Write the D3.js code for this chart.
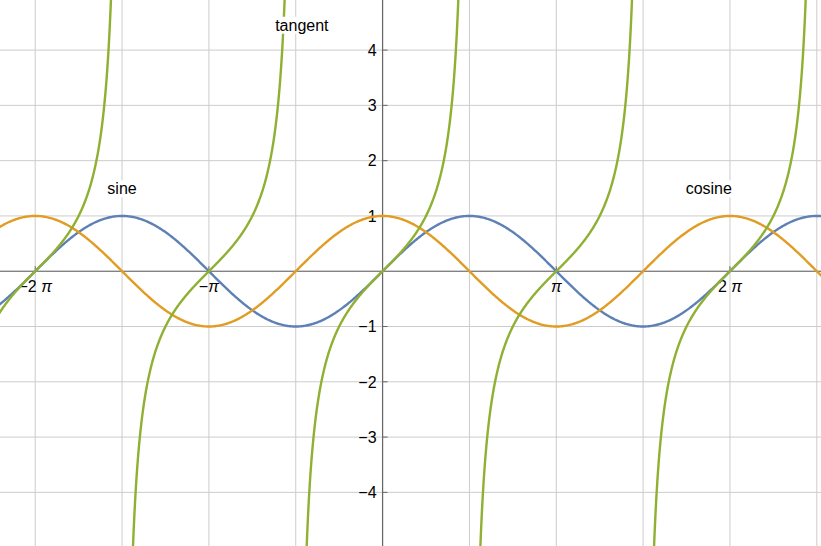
<!DOCTYPE html>
<html>
<head>
<meta charset="utf-8">
<script src="https://cdn.jsdelivr.net/npm/d3@7"></script>
<style>
  body { margin: 0; background: #fff; }
  svg { display: block; font-family: "Liberation Sans", Arial, sans-serif; }
</style>
</head>
<body>
<svg id="mainsvg" width="821" height="546"></svg>
<script>
// chart data
const seriesNames = ["sine", "cosine", "tangent"];
const seriesColors = ["#5E81B5", "#E19C24", "#8FB032"];
const seriesFuncs = [Math.sin, Math.cos, Math.tan];
const xDomain = [-6.92, 7.93];
const yDomain = [-4.97, 4.906];
const xTickValues = [-2 * Math.PI, -Math.PI, Math.PI, 2 * Math.PI];
const xTickPrefix = ["\u22122 ", "\u2212", "", "2 "];
const yTickValues = [-4, -3, -2, -1, 1, 2, 3, 4];
const xGridSteps = d3.range(-4, 6); // multiples of pi/2
const yGridValues = d3.range(-4, 5);
const labelPos = [[-3 * Math.PI / 2, 1.5], [5.9, 1.5], [-1.46, 4.46]];

const width = 821, height = 546;
const svg = d3.select("#mainsvg");
const x = d3.scaleLinear().domain(xDomain).range([0, width]);
const y = d3.scaleLinear().domain(yDomain).range([height, 0]);

const g = svg.append("g");

g.append("defs").append("clipPath").attr("id", "plotclip")
  .append("rect").attr("x", 0).attr("y", 0).attr("width", width).attr("height", height);

// grid
g.selectAll(".vgrid").data(xGridSteps).enter().append("line")
  .attr("x1", d => x(d * Math.PI / 2)).attr("x2", d => x(d * Math.PI / 2))
  .attr("y1", 0).attr("y2", height)
  .style("stroke", "#cccccc").style("stroke-width", 1);
g.selectAll(".hgrid").data(yGridValues).enter().append("line")
  .attr("x1", 0).attr("x2", width)
  .attr("y1", d => y(d)).attr("y2", d => y(d))
  .style("stroke", "#cccccc").style("stroke-width", 1);

// axes
g.append("line").attr("x1", 0).attr("x2", width).attr("y1", y(0)).attr("y2", y(0))
  .style("stroke", "#666").style("stroke-width", 1.2);
g.append("line").attr("x1", x(0)).attr("x2", x(0)).attr("y1", 0).attr("y2", height)
  .style("stroke", "#666").style("stroke-width", 1.2);

g.selectAll(".xtick").data(xTickValues).enter().append("line")
  .attr("x1", d => x(d)).attr("x2", d => x(d))
  .attr("y1", y(0)).attr("y2", y(0) - 5)
  .style("stroke", "#666");
g.selectAll(".ytick").data(yTickValues).enter().append("line")
  .attr("x1", x(0)).attr("x2", x(0) + 5)
  .attr("y1", d => y(d)).attr("y2", d => y(d))
  .style("stroke", "#666");

const xl = g.selectAll(".xlabel").data(xTickValues).enter().append("text")
  .attr("x", d => x(d)).attr("y", y(0) + 21)
  .attr("text-anchor", "middle")
  .style("font-size", "16px").style("fill", "#000");
xl.append("tspan").text((d, i) => xTickPrefix[i]);
xl.append("tspan").style("font-style", "italic").text("\u03C0");

g.selectAll(".ylabel").data(yTickValues).enter().append("text")
  .attr("x", x(0) - 6).attr("y", d => y(d)).attr("dy", "0.36em")
  .attr("text-anchor", "end")
  .style("font-size", "16px").style("fill", "#000")
  .text(d => d < 0 ? "\u2212" + Math.abs(d) : String(d));

// curves
const line = d3.line().x(d => x(d[0])).y(d => y(d[1]));
const curves = g.append("g").attr("clip-path", "url(#plotclip)");

function samples(f, a, b, n) {
  return d3.range(n + 1).map(i => {
    const t = a + (b - a) * i / n;
    return [t, f(t)];
  });
}

seriesFuncs.forEach((f, i) => {
  let branches;
  if (seriesNames[i] === "tangent") {
    const lim = Math.atan(7);
    branches = d3.range(-3, 4).map(k => samples(f, k * Math.PI - lim, k * Math.PI + lim, 400));
  } else {
    branches = [samples(f, xDomain[0] - 0.1, xDomain[1] + 0.1, 800)];
  }
  branches.forEach(b => {
    curves.append("path").attr("d", line(b))
      .style("fill", "none").style("stroke", seriesColors[i])
      .style("stroke-width", 2.4).style("stroke-linejoin", "round");
  });
});

// labels with white box
seriesNames.forEach((name, i) => {
  const lg = g.append("g");
  const t = lg.append("text")
    .attr("x", x(labelPos[i][0])).attr("y", y(labelPos[i][1])).attr("dy", "0.38em")
    .attr("text-anchor", "middle")
    .style("font-size", "16px").style("fill", "#000")
    .text(name);
  const bb = t.node().getBBox();
  lg.insert("rect", "text")
    .attr("x", bb.x - 1).attr("y", bb.y).attr("width", bb.width + 2).attr("height", bb.height)
    .style("fill", "#fff");
});
</script>
</body>
</html>
